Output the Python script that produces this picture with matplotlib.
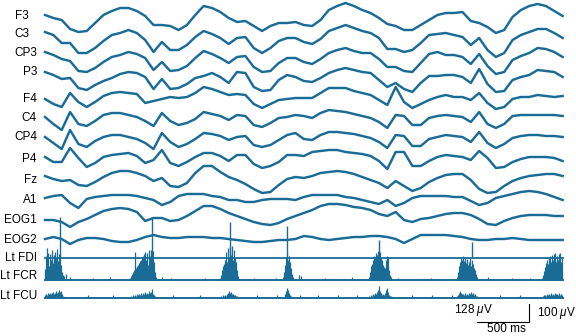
import matplotlib
matplotlib.use('Agg')
import matplotlib.pyplot as plt
import numpy as np

# amplitudes are in display units: the vertical scale bar (17.7 units) is 128 uV
# samples of the slow channels, 63 per channel over ~4.93 s
f3 = [1, -2, -4, -13, -16, -15, -7, 1, 5, 8, 8, 5, 0, -9, -9, -10, -14, -9, 1, 10,
      8, 4, -2, -6, -5, -10, -15, -10, -7, -7, -6, -9, -10, -4, 6, 10, 13, 10, 6, 3,
      -2, -8, -10, -14, -14, -9, -4, 1, 3, 3, 4, -5, -7, -11, -17, -14, -1, 6, 10, 12,
      10, 5, 0]
c3 = [2, -1, -9, -9, -19, -19, -14, -7, -1, 1, 4, 1, -6, -18, -8, -16, -16, -11, -3, 3,
      0, -4, -10, -4, -3, -14, -19, -14, -7, -4, -4, -8, -10, -5, 3, 6, 9, 6, 3, 1,
      -4, -15, -15, -18, -16, -9, -1, 0, 1, -1, -3, -11, -4, -16, -23, -19, -6, -1, 2, 5,
      5, 1, -4]
cp3 = [1, -2, -6, -8, -18, -19, -15, -9, -4, -2, 1, -1, -5, -17, -9, -18, -17, -13, -5, 2,
       -1, -5, -10, -4, -3, -14, -19, -18, -10, -5, -5, -9, -11, -6, 0, 3, 5, 2, 0, 0,
       -6, -14, -14, -18, -19, -10, -1, 1, -2, -2, -4, -11, -1, -13, -21, -19, -7, -3, 0, 5,
       4, 1, -4]
p3 = [0, -3, -7, -6, -16, -18, -13, -9, -6, -2, 0, -1, -5, -17, -7, -17, -16, -12, -6, -4,
      -1, -5, -11, 0, -1, -15, -19, -18, -8, -3, -5, -9, -10, -6, -1, 2, 4, 2, 0, -1,
      -8, -15, -11, -17, -20, -11, -4, -4, -3, -3, -5, -11, 3, -12, -20, -19, -8, -5, -3, 2,
      1, 0, -5]
f4 = [0, -5, -8, 6, -3, -8, -3, 3, 6, 7, 6, 5, -4, -2, 0, 2, 1, 2, 6, 12,
      10, 7, 4, 5, 4, -5, -9, -5, -1, 0, 1, 1, 1, 6, 11, 11, 11, 8, 6, 4,
      -1, -6, 12, -3, -9, -5, -1, 2, 4, 2, 2, -1, 6, -4, -10, -8, 0, 2, 2, 4,
      3, 2, 3]
c4 = [1, -6, -12, 6, -6, -8, -3, 3, 5, 5, 3, 1, -3, -8, 5, -3, -7, -5, -1, 6,
      4, 2, -2, 3, 2, -7, -9, -5, 0, 1, 3, 2, 0, 5, 8, 7, 6, 4, 2, 0,
      -4, -10, 3, 2, -7, -7, 0, 2, 3, 2, 1, -4, 6, -6, -10, -6, 2, 3, 3, 3,
      3, 3, 2]
cp4 = [0, -6, -12, 7, -7, -10, -4, 0, 2, 2, 0, -2, -6, -12, 4, -5, -10, -7, -2, 4,
       3, 1, -3, 0, 1, -8, -10, -8, -3, 2, 4, -2, -3, 2, 5, 5, 4, 3, 1, -1,
       -5, -11, 2, 1, -9, -9, -2, 0, 2, 1, 0, -5, 5, -6, -11, -7, -1, 1, 2, 2,
       1, 1, 0]
p4 = [2, -3, -3, 11, 1, -8, -4, 2, 4, 5, 6, 3, -4, -1, 9, -4, -7, -3, 2, 6,
      6, 3, -2, 4, 4, -5, -9, -7, -3, 4, 4, 3, 7, 8, 9, 9, 7, 6, 5, 3,
      -2, -10, 7, 7, -7, -7, -2, 2, 4, 3, 2, -1, 8, 1, -9, -8, -3, 0, 2, 2,
      2, 1, -2]
fz = [4, 1, -1, 0, -5, -6, -2, 3, 7, 9, 9, 7, 4, -1, 2, -6, -7, -3, 7, 14,
      14, 8, 3, 0, -4, -9, -13, -12, -5, 1, 3, 2, 4, 7, 8, 9, 8, 6, 3, 0,
      -3, -8, -1, -6, -11, -8, -2, 2, 5, 6, 6, 0, -9, -13, -12, -6, -1, 2, 4, 5,
      6, 6, 4]
a1 = [2, 4, 5, -3, -8, 1, 3, 4, 5, 5, 5, 4, 2, 0, -5, -2, 4, 6, 6, 6,
      4, 3, 0, 0, -2, -2, 0, 1, 1, 1, 0, 3, 5, 5, 5, 5, 3, 2, 0, -2,
      -4, 0, -6, -3, 2, 4, 4, 4, 4, 3, 3, -1, -5, -3, 2, 4, 6, 8, 9, 8,
      6, 3, 0]
eog1 = [0, 0, -2, -7, -2, 1, 5, 9, 11, 12, 11, 8, -1, 2, 2, -1, 0, 4, 9, 14,
        14, 11, 7, 4, 1, -2, -4, -5, -3, 1, 4, 7, 10, 14, 16, 16, 15, 13, 12, 10,
        6, 4, 8, 0, -2, 1, 2, 4, 6, 7, 7, 5, 1, -4, -5, -1, 2, 4, 5, 5,
        5, 4, 4]
eog2 = [1, 3, 1, -4, 0, 2, 2, 1, -1, -2, -2, 0, 3, 5, 3, 2, 2, 3, 3, 3,
        2, 2, 1, 0, -1, -2, -2, -1, 0, 0, 1, 4, 3, 1, 0, 1, 2, 3, 3, 4,
        4, 3, 1, -3, 1, 5, 5, 5, 5, 4, 3, 1, 0, 0, 1, 1, 2, 1, 0, 0,
        0, 0, 0]

slow_names = ['F3', 'C3', 'CP3', 'P3', 'F4', 'C4', 'CP4', 'P4', 'Fz', 'A1', 'EOG1', 'EOG2']
slow_data = [f3, c3, cp3, p3, f4, c4, cp4, p4, fz, a1, eog1, eog2]
duration = 4.93  # s
t = np.linspace(0, duration, len(f3))

# EMG channels: burst onsets (s) and rectified-looking samples at EMG_DT
EMG_DT = 0.0095
fdi_spike_t = [0.143, 1.019, 1.762, 2.305, 3.181, 4.067]
fdi_spike_amp = [41, 41, 36, 32, 18, 16]

fcr_onsets = [0.0, 0.810, 1.667, 2.267, 3.086, 3.924, 4.733]
fcr_bursts = [
    [11, 24, 32, 27, 14, 26, 20, 30, 17, 25, 28, 22, 31, 19, 26, 23, 15, 8, 5, 4],
    [2, 4, 6, 8, 10, 28, 12, 14, 15, 17, 19, 20, 22, 24, 26, 28, 20, 27, 15, 30, 24, 30, 26, 29, 18, 8, 3],
    [2, 5, 10, 14, 16, 20, 28, 18, 32, 22, 33, 25, 34, 20, 30, 22, 18, 10, 4],
    [3, 8, 15, 22, 26, 20, 24, 18, 12, 6, 3],
    [3, 8, 14, 16, 20, 24, 22, 27, 25, 29, 26, 28, 22, 20, 15, 13, 12, 20, 24, 22, 10, 5, 3],
    [3, 8, 14, 18, 22, 20, 24, 19, 23, 17, 21, 15, 18, 22, 14, 20, 16, 12, 10, 6, 3],
    [2, 5, 9, 13, 17, 20, 16, 22, 24, 18, 25, 20, 26, 27, 18, 24, 20, 26, 27, 18, 22],
]
fcr_tick_t = [0.20, 0.238, 0.457, 0.619, 1.114, 1.20, 1.524, 1.99, 2.20, 2.419, 2.438,
              2.667, 2.924, 3.362, 3.676, 4.219, 4.448, 4.619]
fcr_tick_amp = [6, 3, 2, 3, 3, 2, 2, 2, 2, 5, 4, 2, 3, 2, 2, 3, 2, 2]

fcu_onsets = [0.0, 0.819, 1.676, 2.286, 3.086, 3.924, 4.743]
fcu_bursts = [
    [3, 4, 3, 5, 4, 5, 4, 5, 6, 4, 5, 7, 5, 6, 8, 6, 7, 4, 2],
    [2, 1, 3, 2, 3, 2, 4, 3, 4, 3, 5, 3, 5, 4, 6, 4, 5, 4, 7, 5, 6, 9, 4, 3, 2],
    [2, 1, 3, 2, 3, 2, 4, 5, 7, 5, 6, 4, 4, 3, 3, 2, 2],
    [4, 7, 10, 8, 5, 3, 2],
    [2, 1, 3, 2, 4, 3, 5, 4, 6, 8, 12, 7, 5, 3, 4, 3, 5, 8, 10, 6, 3, 2, 2],
    [2, 3, 5, 7, 5, 4, 4, 3, 5, 3, 4, 3, 5, 4, 6, 4, 5, 3, 4, 2, 2],
    [2, 3, 3, 2, 4, 3, 4, 3, 5, 3, 4, 3, 5, 4, 4, 3, 5, 3, 4, 3],
]
fcu_tick_t = [0.41, 0.648, 1.219, 1.476, 2.019, 2.21, 2.429, 2.60, 2.79, 2.971,
              3.495, 3.686, 3.876, 4.333, 4.524]
fcu_tick_amp = [3] * len(fcu_tick_t)

# layout (display units, 1 unit ~ 1 px)
offsets = [16, 34, 53, 72, 99, 118, 137, 159, 180, 200, 220, 240]
emg_names = ['Lt FDI', 'Lt FCR', 'Lt FCU']
emg_offsets = [258, 280, 298]
emg_label_y = [258, 276, 296]
label_right = {'F3': 29, 'C3': 29}
PX_PER_S = 105.0
X0 = 45.0

COLOR = '#1a6c96'
plt.rcParams['font.family'] = ['Liberation Sans', 'DejaVu Sans']
plt.rcParams['mathtext.fontset'] = 'custom'
plt.rcParams['mathtext.it'] = 'Liberation Sans:italic'


def px_to_s(px):
    return (px - X0) / PX_PER_S


def draw_bursts(ax, onsets, bursts, base):
    for on, amps in zip(onsets, bursts):
        amps = np.asarray(amps, dtype=float)
        tt = on + EMG_DT * np.arange(len(amps))
        ax.vlines(tt, -base, -base + amps, color=COLOR, lw=0.9)


def main():
    fig = plt.figure(figsize=(5.76, 3.36), dpi=100)
    ax = fig.add_axes([0, 0, 1, 1])
    ax.set_xlim(px_to_s(0), px_to_s(576))
    ax.set_ylim(-336, 0)
    ax.axis('off')

    for name, vals, off in zip(slow_names, slow_data, offsets):
        ax.plot(t, -off + np.asarray(vals, dtype=float), color=COLOR, lw=1.75,
                solid_joinstyle='round')
        xr = label_right.get(name, 37)
        ax.text(px_to_s(xr), -off, name, ha='right', va='center', fontsize=8.5)

    # Lt FDI: flat line with a few tall spikes
    base = emg_offsets[0]
    ax.plot([0, duration], [-base, -base], color=COLOR, lw=1.3)
    ax.vlines(fdi_spike_t, -base, -base + np.asarray(fdi_spike_amp), color=COLOR, lw=1.0)

    # Lt FCR
    base = emg_offsets[1]
    ax.plot([0, duration], [-base, -base], color=COLOR, lw=1.4)
    draw_bursts(ax, fcr_onsets, fcr_bursts, base)
    ax.vlines(fcr_tick_t, -base, -base + np.asarray(fcr_tick_amp), color=COLOR, lw=0.9)

    # Lt FCU
    base = emg_offsets[2]
    ax.plot([0, duration], [-base, -base], color=COLOR, lw=1.4)
    draw_bursts(ax, fcu_onsets, fcu_bursts, base)
    ax.vlines(fcu_tick_t, -base, -base + np.asarray(fcu_tick_amp), color=COLOR, lw=0.9)

    for name, ly in zip(emg_names, emg_label_y):
        ax.text(px_to_s(37), -ly, name, ha='right', va='center', fontsize=8.5)

    # scale bars
    bar_x = px_to_s(529.3)
    bar_y = -321.7
    ax.plot([bar_x - 0.5, bar_x, bar_x], [bar_y, bar_y, bar_y + 17.7], color='black', lw=0.8)
    ax.text(px_to_s(493), -309.5, r'128 $\mu$V', ha='right', va='center', fontsize=8.5)
    ax.text(px_to_s(537), -313, r'100 $\mu$V', ha='left', va='center', fontsize=8.5)
    ax.text(bar_x - 0.22, -329.5, '500 ms', ha='center', va='center', fontsize=8.5)

    fig.savefig('out.png', dpi=100)


if __name__ == '__main__':
    main()
